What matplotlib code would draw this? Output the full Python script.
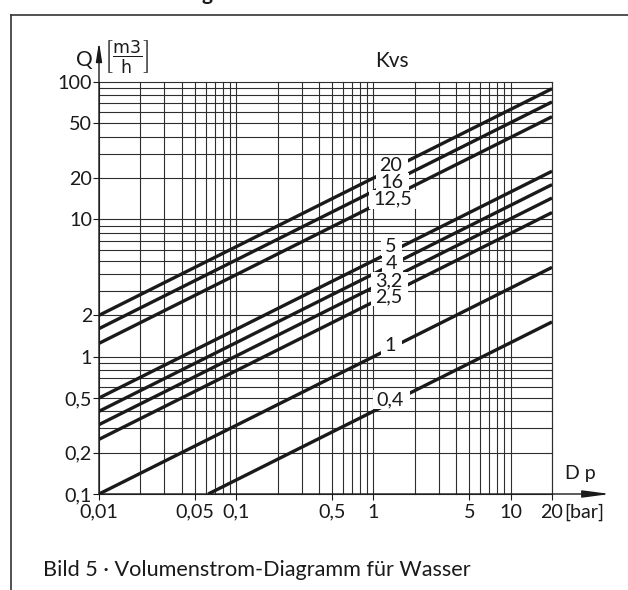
import matplotlib
matplotlib.use('Agg')
import matplotlib.pyplot as plt
from matplotlib.lines import Line2D
from matplotlib.patches import Rectangle
from matplotlib.ticker import FixedLocator, NullLocator

plt.rcParams['font.family'] = ['Lato', 'DejaVu Sans']

# Kvs lines (start / end points on the log-log grid)
kvs_labels = ['20', '16', '12,5', '5', '4', '3,2', '2,5', '1', '0,4']
dp_start = [0.01, 0.01, 0.01, 0.01, 0.01, 0.01, 0.01, 0.01, 0.0625]
q_start = [2.0, 1.6, 1.25, 0.5, 0.4, 0.32, 0.25, 0.1, 0.1]
dp_end = [20, 20, 20, 20, 20, 20, 20, 20, 20]
q_end = [89.4, 71.6, 55.9, 22.4, 17.9, 14.3, 11.2, 4.47, 1.79]

x_ticks = [0.01, 0.05, 0.1, 0.5, 1, 5, 10, 20]
x_ticklabels = ['0,01', '0,05', '0,1', '0,5', '1', '5', '10', '20']
y_ticks = [0.1, 0.2, 0.5, 1, 2, 10, 20, 50, 100]
y_ticklabels = ['0,1', '0,2', '0,5', '1', '2', '10', '20', '50', '100']

# where the Kvs numbers sit (data coords)
label_pos = [(1.33, 24.8), (1.35, 18.7), (1.38, 14.0), (1.33, 6.35), (1.35, 4.77),
             (1.29, 3.55), (1.29, 2.72), (1.33, 1.2), (1.33, 0.486)]

W, H = 628, 590
FS = 14.2


def fx(px):
    return px / W


def fy(py):
    return 1 - py / H


fig = plt.figure(figsize=(W / 100, H / 100), dpi=100)
ax = fig.add_axes([fx(99), fy(494), (552 - 99) / W, (494 - 82) / H])
ax.set_xscale('log')
ax.set_yscale('log')
ax.set_xlim(0.01, 20)
ax.set_ylim(0.1, 100)

# full 1..9 log grid
grid_c = '#2e2e2e'
for e in range(-2, 2):
    for m in range(1, 10):
        v = m * 10 ** e
        if v <= 20:
            ax.axvline(v, color=grid_c, lw=0.8, zorder=1, clip_on=False)
ax.axvline(20, color=grid_c, lw=0.8, zorder=1, clip_on=False)
for e in range(-1, 2):
    for m in range(1, 10):
        ax.axhline(m * 10 ** e, color=grid_c, lw=0.8, zorder=1, clip_on=False)
ax.axhline(100, color=grid_c, lw=0.8, zorder=1, clip_on=False)

for i in range(len(kvs_labels)):
    ax.plot([dp_start[i], dp_end[i]], [q_start[i], q_end[i]], color='#1a1a1a',
            lw=2.4, solid_capstyle='butt', zorder=3)

label_texts = []
for (lx, ly), lbl in zip(label_pos, kvs_labels):
    t = ax.text(lx, ly, lbl, ha='center', va='center', fontsize=FS, color='#1a1a1a', zorder=5)
    label_texts.append(t)

for s in ax.spines.values():
    s.set_visible(False)

ax.xaxis.set_major_locator(FixedLocator(x_ticks))
ax.yaxis.set_major_locator(FixedLocator(y_ticks))
ax.xaxis.set_minor_locator(NullLocator())
ax.yaxis.set_minor_locator(NullLocator())
ax.set_xticklabels(x_ticklabels)
ax.set_yticklabels(y_ticklabels)
ax.tick_params(axis='both', direction='out', length=4, width=0.8, color='#1a1a1a',
               labelsize=FS, labelcolor='#1a1a1a')
ax.tick_params(axis='x', pad=3)
ax.tick_params(axis='y', pad=1)

# axis arrows
ax.annotate('', xy=(0, 1.097), xytext=(0, 0), xycoords='axes fraction',
            arrowprops=dict(arrowstyle='-|>,head_length=1.15,head_width=0.18',
                            color='#1a1a1a', lw=1, mutation_scale=10, shrinkA=0, shrinkB=0),
            annotation_clip=False)
ax.annotate('', xy=(1.128, 0), xytext=(0, 0), xycoords='axes fraction',
            arrowprops=dict(arrowstyle='-|>,head_length=1.65,head_width=0.22',
                            color='#1a1a1a', lw=1, mutation_scale=10, shrinkA=0, shrinkB=0),
            annotation_clip=False)

fig.text(fx(84.5), fy(60), 'Q', ha='center', va='center', fontsize=15, color='#1a1a1a')
fig.text(fx(126), fy(57), r'$\left[\dfrac{\mathrm{m3}}{\mathrm{h}}\right]$', ha='center',
         va='center', fontsize=12.5, color='#1a1a1a')
fig.text(fx(392), fy(61), 'Kvs', ha='center', va='center', fontsize=15, color='#1a1a1a')
fig.text(fx(580), fy(474), 'D p', ha='center', va='center', fontsize=14, color='#1a1a1a')
fig.text(fx(564), fy(512), '[bar]', ha='left', va='center', fontsize=FS, color='#1a1a1a')

# page frame and caption
fig.add_artist(Line2D([fx(11), fx(11)], [fy(15), 0], color='#333333', lw=1.2))
fig.add_artist(Line2D([fx(11), 1], [fy(15), fy(15)], color='#333333', lw=1.2))
fig.text(fx(207), 1.0, 'g', ha='center', va='baseline', fontsize=15, fontweight='bold',
         color='#1a1a1a')
fig.text(fx(43), fy(570), 'Bild 5 · Volumenstrom-Diagramm für Wasser', ha='left',
         va='center', fontsize=15.6, color='#1a1a1a')

# white knock-out behind the Kvs numbers (hides grid and lines there)
renderer = fig.canvas.get_renderer()
for t in label_texts:
    bb = t.get_window_extent(renderer)
    ax.add_patch(Rectangle((bb.x0 - 4, bb.y0 - 1), bb.width + 10, bb.height + 2,
                           transform=None, fc='white', ec='none', zorder=4, clip_on=False))

fig.savefig('out.png', dpi=100)
